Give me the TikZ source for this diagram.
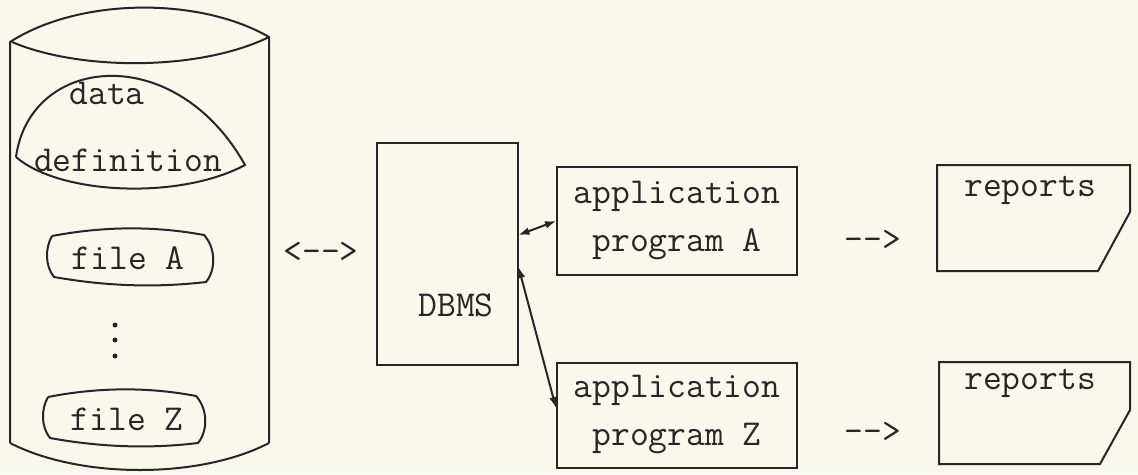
\documentclass[tikz,border=0pt]{standalone}
\usepackage{fontspec}
\usetikzlibrary{arrows.meta}
\definecolor{paper}{RGB}{248,248,236}
\definecolor{ink}{RGB}{38,38,38}
\begin{document}
\begin{tikzpicture} [x=1pt, y=-1pt, line width=2pt, color=ink,
    every node/.style={font=\ttfamily\fontsize{36.5}{48}\selectfont, text=ink, inner sep=0pt},
    box/.style={draw, rectangle, align=center},
    link/.style={{Latex[length=11pt,width=8pt]}-{Latex[length=11pt,width=8pt]}}]
    \fill[paper] (0,0) rectangle (1138,474);
    \useasboundingbox (0,0) rectangle (1138,474);
    % cylinder
    \draw (10,443) -- (10,42) .. controls (80,-3) and (200,-3) .. (269,37) -- (269,443);
    \draw (12,42) .. controls (80,71) and (200,71) .. (269,37);
    \draw (10,443) .. controls (80,479) and (200,479) .. (269,443);
    \draw (16,157) .. controls (30,55) and (175,40) .. (245,165)
          .. controls (180,200) and (60,195) .. (16,157);
    \node (data) at (107,93) {data};
    \node (definition) at (128,160) {definition};
    \draw[shift={(130,258)}] (-78,-22) .. controls (-25,-32) and (25,-32) .. (74,-23)
          .. controls (86,-10) and (86,12) .. (76,24)
          .. controls (25,30) and (-25,28) .. (-76,19)
          .. controls (-85,8) and (-85,-10) .. (-78,-22);
    \node (fileA) at (128,258) {file A};
    \fill (115,325) circle (2.5);
    \fill (115,340) circle (2.5);
    \fill (115,356) circle (2.5);
    \draw[shift={(124,419)}] (-76,-22) .. controls (-25,-32) and (25,-32) .. (72,-23)
          .. controls (84,-10) and (84,12) .. (74,24)
          .. controls (25,30) and (-25,28) .. (-74,19)
          .. controls (-83,8) and (-83,-10) .. (-76,-22);
    \node (fileZ) at (127,419) {file Z};
    \node (dblink) at (321,252) {<-->};
    % dbms and programs
    \node[box, minimum width=141pt, minimum height=222pt] (dbms) at (447,254) {};
    \node (dbmstext) at (456,305) {DBMS};
    \node[box, minimum width=240pt, minimum height=108pt] (appA) at (677,221) {application\\program A};
    \node[box, minimum width=240pt, minimum height=105pt] (appZ) at (677,415) {application\\program Z};
    \draw[link] ([yshift=19pt]dbms.east) -- (appA.west);
    \draw[link] ([yshift=-13pt]dbms.east) -- ([yshift=7pt]appZ.west);
    % reports
    \node (outA) at (873,240) {-->};
    \node (outZ) at (873,432) {-->};
    \node (rptA) at (1030,190) {reports};
    \draw (937,165) -- (1130,165) -- (1130,212) -- (1098,271) -- (937,271) -- cycle;
    \node (rptZ) at (1030,383) {reports};
    \draw (939,362) -- (1130,362) -- (1130,410) -- (1100,464) -- (939,464) -- cycle;
  \end{tikzpicture}
\end{document}
